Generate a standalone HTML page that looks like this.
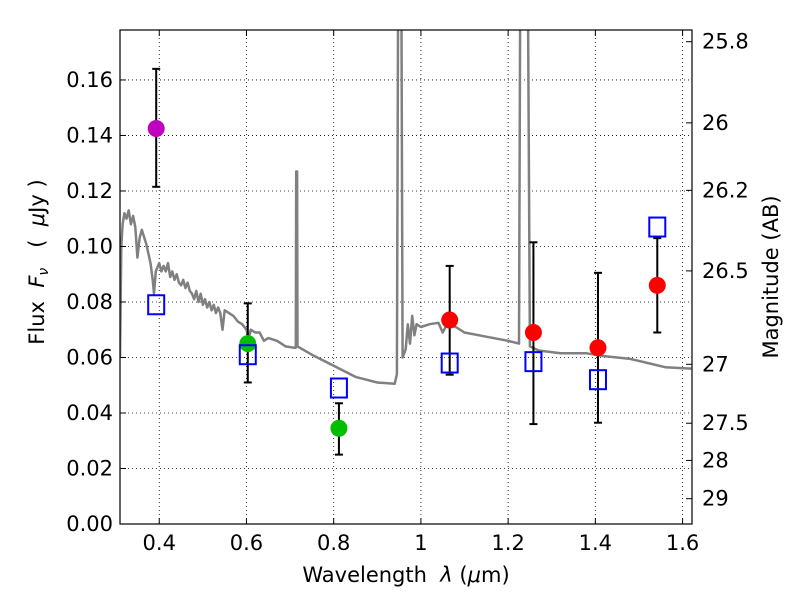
<!DOCTYPE html>
<html><head><meta charset="utf-8"><style>
body{margin:0;background:#fff;}
svg text{font-family:"DejaVu Sans","Liberation Sans",sans-serif;fill:#000;}
</style></head><body>
<svg id="chart" width="800" height="600" xmlns="http://www.w3.org/2000/svg">
<defs><clipPath id="clip"><rect x="120" y="30" width="572" height="494"/></clipPath></defs>
<g id="grid"></g>
<g id="spec" clip-path="url(#clip)"></g>
<g id="marks"></g>
<rect x="120" y="30" width="572" height="494" fill="none" stroke="#000" stroke-width="1.2"/>
<g id="axes"></g>
<text x="406" y="582" font-size="21" text-anchor="middle" xml:space="preserve">Wavelength  <tspan font-style="italic">λ</tspan> (<tspan font-style="italic">μ</tspan>m)</text>
<text transform="translate(44,262) rotate(-90)" font-size="21" text-anchor="middle" xml:space="preserve">Flux  <tspan font-style="italic">F<tspan font-size="14" dy="4">ν</tspan></tspan><tspan dy="-4">   (  <tspan font-style="italic">μ</tspan>Jy )</tspan></text>
<text transform="translate(778,277) rotate(-90)" font-size="21" text-anchor="middle">Magnitude (AB)</text>
</svg>
<script>
const xTicks=[0.4,0.6,0.8,1.0,1.2,1.4,1.6];
const xTickLabels=["0.4","0.6","0.8","1","1.2","1.4","1.6"];
const yTicks=[0,0.02,0.04,0.06,0.08,0.10,0.12,0.14,0.16];
const yTickLabels=["0.00","0.02","0.04","0.06","0.08","0.10","0.12","0.14","0.16"];
const magTicks=[25.8,26,26.2,26.5,27,27.5,28,29];
const magLabels=["25.8","26","26.2","26.5","27","27.5","28","29"];
const ptWave=[0.393,0.603,0.812,1.066,1.258,1.406,1.542];
const ptFlux=[0.1425,0.065,0.0345,0.0735,0.069,0.0635,0.086];
const ptLow=[0.1215,0.051,0.025,0.0538,0.036,0.0365,0.069];
const ptHigh=[0.164,0.0795,0.0435,0.093,0.1015,0.0905,0.103];
const ptColors=["#bf00bf","#00bf00","#00bf00","#ff0000","#ff0000","#ff0000","#ff0000"];
const modelFlux=[0.079,0.061,0.049,0.058,0.0585,0.052,0.107];
const specWave=[0.31,0.313,0.316,0.32,0.325,0.33,0.335,0.34,0.345,0.35,0.355,0.36,0.37,0.38,0.385,0.388,0.392,0.40,0.405,0.41,0.415,0.42,0.425,0.43,0.435,0.44,0.445,0.45,0.455,0.46,0.465,0.47,0.475,0.48,0.485,0.49,0.495,0.50,0.505,0.51,0.515,0.52,0.525,0.53,0.535,0.54,0.545,0.55,0.56,0.57,0.58,0.59,0.60,0.605,0.61,0.62,0.63,0.64,0.65,0.67,0.69,0.71,0.713,0.714,0.716,0.717,0.75,0.80,0.85,0.90,0.94,0.945,0.948,0.955,0.958,0.965,0.97,0.975,0.98,0.985,0.99,1.0,1.02,1.04,1.05,1.06,1.08,1.10,1.15,1.2,1.225,1.228,1.245,1.25,1.27,1.32,1.38,1.42,1.48,1.52,1.56,1.62];
const specFlux=[0.06,0.1,0.108,0.112,0.110,0.113,0.108,0.111,0.107,0.096,0.103,0.106,0.101,0.094,0.088,0.083,0.091,0.094,0.091,0.093,0.091,0.094,0.089,0.091,0.088,0.090,0.087,0.086,0.088,0.085,0.087,0.084,0.083,0.081,0.084,0.080,0.083,0.079,0.081,0.078,0.080,0.077,0.079,0.076,0.078,0.076,0.070,0.077,0.076,0.075,0.073,0.072,0.070,0.067,0.070,0.069,0.069,0.066,0.067,0.066,0.064,0.0635,0.0635,0.127,0.127,0.064,0.061,0.057,0.053,0.051,0.0505,0.054,0.2,0.2,0.06,0.063,0.072,0.065,0.075,0.068,0.072,0.071,0.072,0.0725,0.069,0.072,0.071,0.069,0.0675,0.066,0.065,0.2,0.2,0.064,0.0625,0.0615,0.0615,0.0605,0.0595,0.058,0.0565,0.056];

const X0=120,X1=692,Y0=524,Y1=30,xmin=0.31,xmax=1.6216,ymin=0,ymax=0.178;
const sx=v=>X0+(v-xmin)/(xmax-xmin)*(X1-X0);
const sy=v=>Y0-(v-ymin)/(ymax-ymin)*(Y0-Y1);
const NS="http://www.w3.org/2000/svg";
function mk(tag,attrs,parent){const e=document.createElementNS(NS,tag);for(const k in attrs)e.setAttribute(k,attrs[k]);parent.appendChild(e);return e;}
const grid=document.getElementById('grid'),axes=document.getElementById('axes'),spec=document.getElementById('spec'),marks=document.getElementById('marks');
xTicks.forEach((t,i)=>{const x=sx(t);
 const g=mk('line',{x1:x,x2:x,y1:Y1,y2:Y0,stroke:'#000','stroke-width':0.8,'stroke-dasharray':'1,3'},grid);
 
 
 mk('line',{x1:x,x2:x,y1:Y0,y2:Y0-6,stroke:'#000'},axes);
 mk('line',{x1:x,x2:x,y1:Y1,y2:Y1+6,stroke:'#000'},axes);
 const tx=mk('text',{x:x,y:Y0+26,'font-size':21,'text-anchor':'middle'},axes);tx.textContent=xTickLabels[i];
 
 
});
yTicks.forEach((t,i)=>{const y=sy(t);
 const g=mk('line',{x1:X0,x2:X1,y1:y,y2:y,stroke:'#000','stroke-width':0.8,'stroke-dasharray':'1,3'},grid);
 
 
 mk('line',{x1:X0,x2:X0+6,y1:y,y2:y,stroke:'#000'},axes);
 const tx=mk('text',{x:X0-7,y:y+7,'font-size':21,'text-anchor':'end'},axes);tx.textContent=yTickLabels[i];
 
 
});
magTicks.forEach((m,i)=>{const f=Math.pow(10,(23.9-m)/2.5);const y=sy(f);
 mk('line',{x1:X1-6,x2:X1,y1:y,y2:y,stroke:'#000'},axes);
 const tx=mk('text',{x:X1+10,y:y+7,'font-size':21},axes);tx.textContent=magLabels[i];
 
 
});
const d=specWave.map((w,i)=>(i?'L':'M')+sx(w).toFixed(1)+','+sy(specFlux[i]).toFixed(1)).join(' ');
const p=mk('path',{d:d,fill:'none',stroke:'#808080','stroke-width':2.5,'stroke-linejoin':'round'},spec);


ptWave.forEach((w,i)=>{const x=sx(w);
 const e=mk('g',{},marks);
 
 
 mk('line',{x1:x,x2:x,y1:sy(ptLow[i]),y2:sy(ptHigh[i]),stroke:'#000','stroke-width':2},e);
 mk('line',{x1:x-4,x2:x+4,y1:sy(ptLow[i]),y2:sy(ptLow[i]),stroke:'#000','stroke-width':2},e);
 mk('line',{x1:x-4,x2:x+4,y1:sy(ptHigh[i]),y2:sy(ptHigh[i]),stroke:'#000','stroke-width':2},e);
 const c=mk('circle',{cx:x,cy:sy(ptFlux[i]),r:8.5,fill:ptColors[i]},marks);
 
 
 const r=mk('rect',{x:x-8,y:sy(modelFlux[i])-9.5,width:16,height:19,fill:'none',stroke:'#0000ff','stroke-width':2},marks);
 
 
});
</script>
</body></html>
